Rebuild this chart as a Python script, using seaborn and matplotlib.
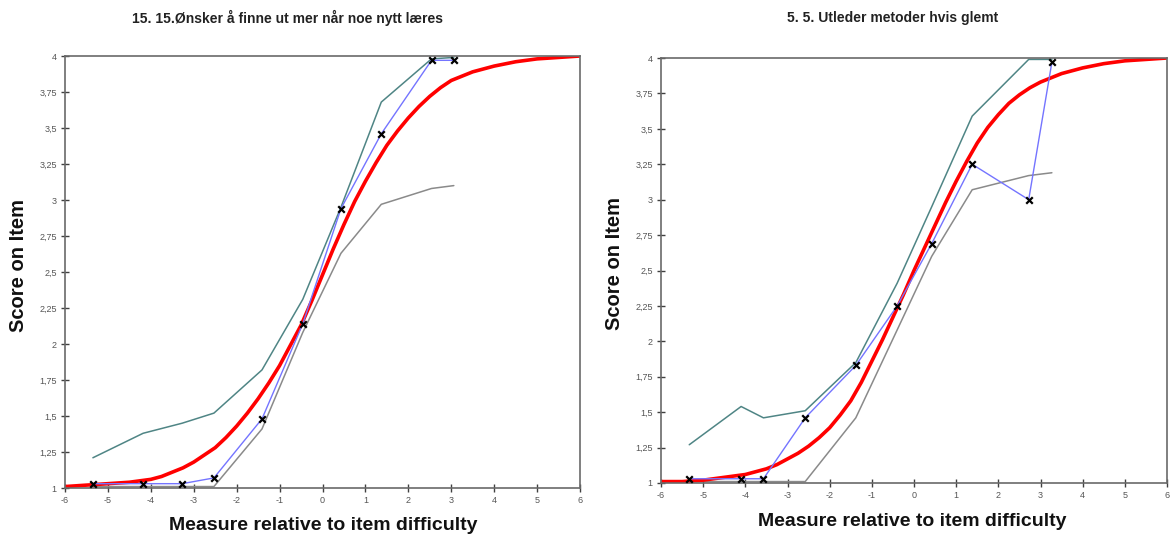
import matplotlib
matplotlib.use("Agg")
import matplotlib.pyplot as plt
import seaborn as sns
import pandas as pd

# ---- data ----
titles = ["15. 15.Ønsker å finne ut mer når noe nytt læres", "5. 5. Utleder metoder hvis glemt"]
x_label = "Measure relative to item difficulty"
y_label = "Score on Item"
x_ticks = [-6, -5, -4, -3, -2, -1, 0, 1, 2, 3, 4, 5, 6]
x_ticklabels = ["-6", "-5", "-4", "-3", "-2", "-1", "0", "1", "2", "3", "4", "5", "6"]
y_ticks = [1, 1.25, 1.5, 1.75, 2, 2.25, 2.5, 2.75, 3, 3.25, 3.5, 3.75, 4]
y_ticklabels = ["1", "1,25", "1,5", "1,75", "2", "2,25", "2,5", "2,75", "3", "3,25", "3,5", "3,75", "4"]

# left panel (item 15)
xL = [-5.35, -4.18, -3.27, -2.53, -1.41, -0.46, 0.43, 1.37, 2.54, 3.06]
blueL = [1.03, 1.03, 1.03, 1.07, 1.48, 2.14, 2.94, 3.46, 3.97, 3.97]
tealL = [1.21, 1.38, 1.45, 1.52, 1.82, 2.31, 2.95, 3.68, 3.98, 3.99]
grayL = [1.01, 1.01, 1.01, 1.01, 1.41, 2.08, 2.63, 2.97, 3.08, 3.10]

# right panel (item 5)
xR = [-5.33, -4.10, -3.57, -2.58, -1.38, -0.40, 0.42, 1.38, 2.72, 3.27]
blueR = [1.03, 1.03, 1.03, 1.46, 1.83, 2.25, 2.69, 3.25, 3.00, 3.97]
tealR = [1.27, 1.54, 1.46, 1.51, 1.85, 2.41, 2.95, 3.59, 3.99, 3.99]
grayR = [1.01, 1.01, 1.01, 1.01, 1.46, 2.08, 2.60, 3.07, 3.17, 3.19]

# model expected-score curves
x_curve = [-6, -5.5, -5, -4.5, -4, -3.75, -3.5, -3.25, -3, -2.75, -2.5, -2.25, -2,
           -1.75, -1.5, -1.25, -1, -0.75, -0.5, -0.25, 0, 0.25, 0.5, 0.75, 1, 1.25,
           1.5, 1.75, 2, 2.25, 2.5, 2.75, 3, 3.5, 4, 4.5, 5, 5.5, 6]
redL = [1.01, 1.02, 1.03, 1.04, 1.06, 1.08, 1.11, 1.14, 1.18, 1.23, 1.28, 1.35, 1.43,
        1.52, 1.62, 1.73, 1.85, 1.99, 2.13, 2.30, 2.48, 2.66, 2.83, 2.99, 3.13, 3.26,
        3.38, 3.48, 3.57, 3.65, 3.72, 3.78, 3.83, 3.89, 3.93, 3.96, 3.98, 3.99, 4.00]
redR = [1.01, 1.01, 1.02, 1.04, 1.06, 1.08, 1.10, 1.13, 1.17, 1.21, 1.26, 1.32, 1.39,
        1.48, 1.58, 1.71, 1.86, 2.01, 2.17, 2.33, 2.50, 2.66, 2.82, 2.98, 3.13, 3.27,
        3.40, 3.51, 3.60, 3.68, 3.74, 3.79, 3.83, 3.89, 3.93, 3.96, 3.98, 3.99, 4.00]

sns.set_style("white")
plt.rcParams["font.family"] = ["Liberation Sans", "DejaVu Sans"]

W, H = 1171, 537
fig = plt.figure(figsize=(W / 100, H / 100), dpi=100)
axL = fig.add_axes([65 / W, 1 - 488 / H, (580 - 65) / W, (488 - 56) / H])
axR = fig.add_axes([661 / W, 1 - 483 / H, (1167 - 661) / W, (483 - 58) / H])

C_BLUE = "#7474ff"
C_TEAL = "#4f8585"
C_GRAY = "#8a8a8a"
C_RED = "#ff0000"

panels = [
    (axL, xL, blueL, tealL, grayL, redL),
    (axR, xR, blueR, tealR, grayR, redR),
]

for ax, xs, blue, teal, gray, red in panels:
    df = pd.DataFrame({"x": xs, "blue": blue, "teal": teal, "gray": gray})
    dc = pd.DataFrame({"x": x_curve, "red": red})
    sns.lineplot(data=df, x="x", y="gray", ax=ax, color=C_GRAY, lw=1.1, sort=False, estimator=None)
    sns.lineplot(data=df, x="x", y="teal", ax=ax, color=C_TEAL, lw=1.1, sort=False, estimator=None)
    sns.lineplot(data=dc, x="x", y="red", ax=ax, color=C_RED, lw=2.6, sort=False, estimator=None)
    sns.lineplot(data=df, x="x", y="blue", ax=ax, color=C_BLUE, lw=1.0, sort=False, estimator=None)
    sns.scatterplot(data=df, x="x", y="blue", ax=ax, marker="x", color="black", s=22,
                    linewidth=1.6, zorder=5)
    ax.set_xlim(-6, 6)
    ax.set_ylim(1, 4)
    ax.set_xticks(x_ticks)
    ax.set_xticklabels(x_ticklabels)
    ax.set_yticks(y_ticks)
    ax.set_yticklabels(y_ticklabels)
    ax.tick_params(axis="both", direction="inout", length=6, width=1.0, color="#404040",
                   labelsize=6.5, labelcolor="#555555", pad=3)
    ax.tick_params(axis="y", left=True)
    ax.tick_params(axis="x", bottom=True)
    for sp in ax.spines.values():
        sp.set_color("#6a6a6a")
        sp.set_linewidth(1.2)
    ax.set_xlabel("")
    ax.set_ylabel("")

# titles and axis labels placed as in the reference
fig.text(287 / W, 1 - 18 / H, titles[0], ha="center", va="center", fontsize=10,
         fontweight="bold", color="#222222")
fig.text(893 / W, 1 - 18 / H, titles[1], ha="center", va="center", fontsize=10,
         fontweight="bold", color="#222222")
fig.text(323 / W, 1 - 525 / H, x_label, ha="center", va="center", fontsize=14,
         fontweight="bold", color="#111111")
fig.text(912 / W, 1 - 522 / H, x_label, ha="center", va="center", fontsize=14,
         fontweight="bold", color="#111111")
fig.text(19 / W, 1 - 265 / H, y_label, ha="center", va="center", rotation=90, fontsize=14.5,
         fontweight="bold", color="#111111")
fig.text(615 / W, 1 - 263 / H, y_label, ha="center", va="center", rotation=90, fontsize=14.5,
         fontweight="bold", color="#111111")

fig.savefig("out.png", dpi=100)
